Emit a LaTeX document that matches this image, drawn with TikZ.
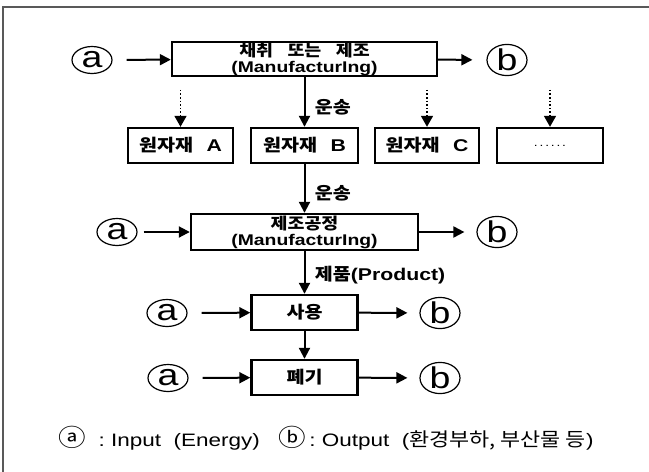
\documentclass[tikz,border=0pt]{standalone}
\usepackage{fontspec}
\setmainfont{Liberation Sans}[FakeStretch=1.25]
\newfontfamily\kr{Noto Sans CJK KR}[FakeStretch=1.15]
\usetikzlibrary{shapes.geometric, arrows.meta, positioning}

\begin{document}
\begin{tikzpicture}[
        x=1pt, y=-1pt,
        box/.style={rectangle, draw, line width=2.4pt, inner sep=0pt, align=center, font=\bfseries\fontsize{15.5}{16}\selectfont},
        io/.style={ellipse, draw, line width=1.2pt, minimum width=40pt, minimum height=27pt, inner sep=0pt, font=\fontsize{30}{30}\selectfont},
        arrow/.style={-{Triangle[length=11pt,width=11pt]}, line width=2pt},
        dotarrow/.style={-{Triangle[length=11pt,width=12pt]}, line width=1.6pt, dotted},
        lbl/.style={anchor=west, xshift=6pt, font=\bfseries\fontsize{17}{17}\selectfont},
        hangul/.style={font=\kr\bfseries\fontsize{17}{17}\selectfont}
    ]
        \useasboundingbox (0,0) rectangle (649,472);
        \draw[gray!70!black, line width=1.8pt] (649,7) -- (3,7) -- (3,472);

        % boxes
        \node[box, minimum width=265pt, minimum height=34pt] (mine) at (304.5,59) {{\kr\fontsize{16}{16}\selectfont 채취\hspace{0.9em}또는\hspace{0.9em}제조}\\(ManufacturIng)};
        \node[box, minimum width=105pt, minimum height=35pt, font=\bfseries\fontsize{17}{17}\selectfont] (rawa) at (180.5,145.5) {{\kr 원자재}\hspace{0.8em}A};
        \node[box, minimum width=107pt, minimum height=35pt, font=\bfseries\fontsize{17}{17}\selectfont] (rawb) at (304.5,145.5) {{\kr 원자재}\hspace{0.8em}B};
        \node[box, minimum width=104pt, minimum height=35pt, font=\bfseries\fontsize{17}{17}\selectfont] (rawc) at (427,145.5) {{\kr 원자재}\hspace{0.8em}C};
        \node[box, minimum width=106pt, minimum height=35pt] (rawd) at (550,145.5) {\mdseries\fontsize{11}{12}\selectfont .\,.\,.\,.\,.\,.};
        \node[box, minimum width=227pt, minimum height=36pt] (mfg) at (304.5,232) {{\kr\fontsize{16}{16}\selectfont 제조공정}\\(ManufacturIng)};
        \node[box, hangul, minimum width=106pt, minimum height=35pt] (use) at (304.5,312.5) {사용};
        \node[box, hangul, minimum width=106pt, minimum height=35pt] (waste) at (304.5,377.5) {폐기};

        % inputs and outputs
        \node[io] (ina1) at (92,60) {a};
        \node[io] (outb1) at (507,60) {b};
        \node[io] (ina2) at (117,232) {a};
        \node[io] (outb2) at (497,232) {b};
        \node[io] (ina3) at (167,313) {a};
        \node[io] (outb3) at (440,313) {b};
        \node[io] (ina4) at (168,378) {a};
        \node[io] (outb4) at (440,378) {b};

        \draw[arrow, shorten <=14pt] (ina1) -- (mine);
        \draw[arrow, shorten >=14pt] (mine) -- (outb1);
        \draw[arrow, shorten <=6pt] (ina2) -- (mfg);
        \draw[arrow, shorten >=12pt] (mfg) -- (outb2);
        \draw[arrow, shorten <=14pt] (ina3) -- (use);
        \draw[arrow, shorten >=12pt] (use) -- (outb3);
        \draw[arrow, shorten <=14pt] (ina4) -- (waste);
        \draw[arrow, shorten >=12pt] (waste) -- (outb4);

        % flow
        \coordinate[above=37pt of rawa.north] (dota);
        \coordinate[above=37pt of rawc.north] (dotc);
        \coordinate[above=37pt of rawd.north] (dotd);
        \draw[dotarrow] (dota) -- (rawa);
        \draw[dotarrow] (dotc) -- (rawc);
        \draw[dotarrow] (dotd) -- (rawd);
        \draw[arrow] (mine) -- node[lbl, hangul, pos=0.6] {운송} (rawb);
        \draw[arrow] (rawb) -- node[lbl, hangul, pos=0.6] {운송} (mfg);
        \draw[arrow] (mfg) -- node[lbl, pos=0.55] {{\kr 제품}(Product)} (use);
        \draw[arrow] (use) -- (waste);

        % legend
        \node[font=\fontsize{18}{20}\selectfont] (legend) at (326,438) {{\kr\fontsize{24}{20}\selectfont ⓐ}\ \ :\ Input\ \ (Energy)\ \ \ {\kr\fontsize{24}{20}\selectfont ⓑ}\,:\ Output\ \ ({\kr\fontsize{19}{20}\selectfont 환경부하,\ 부산물\ 등})};
    \end{tikzpicture}
\end{document}
